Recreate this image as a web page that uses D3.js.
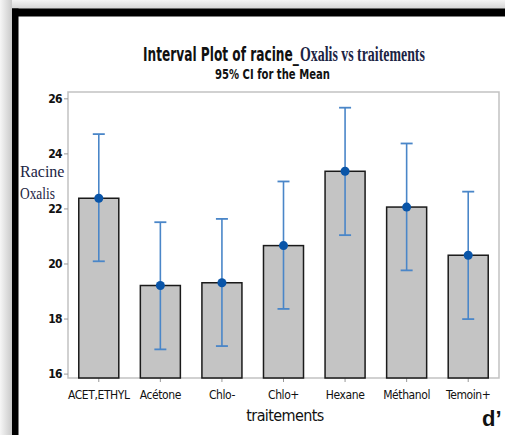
<!DOCTYPE html>
<html>
<head>
<meta charset="utf-8">
<script src="https://cdn.jsdelivr.net/npm/d3@7"></script>
<style>
  html, body { margin: 0; padding: 0; background: #fff; }
  svg { display: block; }
</style>
</head>
<body>
<svg id="chart"></svg>
<script>
// values
var categories = ["ACET,ETHYL", "Acétone", "Chlo-", "Chlo+", "Hexane", "Méthanol", "Temoin+"];
var means = [22.37, 19.2, 19.3, 20.65, 23.35, 22.05, 20.3];
var ciLow = [20.08, 16.88, 17.0, 18.35, 21.03, 19.75, 17.98];
var ciHigh = [24.7, 21.5, 21.62, 22.98, 25.66, 24.36, 22.61];
var yTicks = [16, 18, 20, 22, 24, 26];

var width = 505, height = 435;
var narrow = "'Liberation Sans Narrow', 'DejaVu Sans Condensed', 'Liberation Sans', sans-serif";
var serif = "'Liberation Serif', 'DejaVu Serif', serif";

var svg = d3.select("#chart")
    .attr("width", width)
    .attr("height", height);

// squeeze a text horizontally so it spans the given width
function fitText(sel, x0, y0, w) {
    var len = sel.node().getComputedTextLength();
    sel.attr("transform", "translate(" + x0 + "," + y0 + ") scale(" + (w / len) + ",1)");
    return sel;
}

// outer shadow + thick black frame (screenshot border)
var defs = svg.append("defs");
var gl = defs.append("linearGradient").attr("id", "shadeLeft");
gl.append("stop").attr("offset", "0%").attr("stop-color", "#f6f6f6");
gl.append("stop").attr("offset", "100%").attr("stop-color", "#c9c9c9");
var gt = defs.append("linearGradient").attr("id", "shadeTop")
    .attr("x1", 0).attr("y1", 0).attr("x2", 0).attr("y2", 1);
gt.append("stop").attr("offset", "0%").attr("stop-color", "#f4f4f4");
gt.append("stop").attr("offset", "100%").attr("stop-color", "#d4d4d4");

svg.append("rect").attr("x", 0).attr("y", 0).attr("width", width).attr("height", 9)
    .attr("fill", "url(#shadeTop)");
svg.append("rect").attr("x", 0).attr("y", 0).attr("width", 12).attr("height", height)
    .attr("fill", "url(#shadeLeft)");
svg.append("rect").attr("x", 12).attr("y", 8.5).attr("width", width - 12).attr("height", 8)
    .attr("fill", "#000");
svg.append("rect").attr("x", 12).attr("y", 8.5).attr("width", 6.5).attr("height", height)
    .attr("fill", "#000");

// plot region
var plot = { left: 68, right: 499, top: 92, bottom: 378 };

var x = d3.scaleBand()
    .domain(categories)
    .range([plot.left, plot.right])
    .paddingInner(0.35)
    .paddingOuter(0.175);

var y = d3.scaleLinear()
    .domain([15.84, 26.23])
    .range([plot.bottom, plot.top]);

var rows = categories.map(function (c, i) {
    return { cat: c, mean: means[i], lo: ciLow[i], hi: ciHigh[i] };
});

// frame
svg.append("rect")
    .attr("x", plot.left).attr("y", plot.top)
    .attr("width", plot.right - plot.left).attr("height", plot.bottom - plot.top)
    .attr("fill", "none")
    .attr("stroke", "#c2c2c2")
    .attr("stroke-width", 1.5);

// axes
var yAxis = svg.append("g")
    .attr("transform", "translate(" + plot.left + ",0)")
    .call(d3.axisLeft(y).tickValues(yTicks).tickSize(4).tickPadding(2));
yAxis.select(".domain").remove();
yAxis.selectAll("line").attr("stroke", "#999");
yAxis.selectAll("text")
    .attr("fill", "#111")
    .style("font-family", narrow)
    .style("font-size", "12px")
    .style("font-weight", "bold")
    .style("letter-spacing", "-0.6px");

var xAxis = svg.append("g")
    .attr("transform", "translate(0," + plot.bottom + ")")
    .call(d3.axisBottom(x).tickSize(4).tickPadding(8));
xAxis.select(".domain").remove();
xAxis.selectAll("line").attr("stroke", "#999");
xAxis.selectAll("text")
    .attr("fill", "#111")
    .style("font-family", narrow)
    .style("font-size", "12px")
    .style("letter-spacing", "-0.4px");

// bars of the means
svg.selectAll("rect.bar")
    .data(rows)
    .enter()
    .append("rect")
    .attr("class", "bar")
    .attr("x", function (d) { return x(d.cat); })
    .attr("y", function (d) { return y(d.mean); })
    .attr("width", x.bandwidth())
    .attr("height", function (d) { return y.range()[0] - y(d.mean); })
    .attr("fill", "#c4c4c4")
    .attr("stroke", "#1a1a1a")
    .attr("stroke-width", 1.5);

// confidence intervals
var ci = svg.selectAll("g.ci")
    .data(rows)
    .enter()
    .append("g")
    .attr("class", "ci")
    .attr("transform", function (d) { return "translate(" + (x(d.cat) + x.bandwidth() / 2) + ",0)"; });

ci.append("line")
    .attr("y1", function (d) { return y(d.lo); })
    .attr("y2", function (d) { return y(d.hi); })
    .attr("stroke", "#4a86c8")
    .attr("stroke-width", 1.6);
ci.append("line")
    .attr("x1", -6).attr("x2", 6)
    .attr("y1", function (d) { return y(d.hi); })
    .attr("y2", function (d) { return y(d.hi); })
    .attr("stroke", "#4a86c8")
    .attr("stroke-width", 1.8);
ci.append("line")
    .attr("x1", -6).attr("x2", 6)
    .attr("y1", function (d) { return y(d.lo); })
    .attr("y2", function (d) { return y(d.lo); })
    .attr("stroke", "#4a86c8")
    .attr("stroke-width", 1.8);
ci.append("circle")
    .attr("cy", function (d) { return y(d.mean); })
    .attr("r", 4.5)
    .attr("fill", "#0a55a8");

// title: condensed sans part, then serif part
var t1 = svg.append("text")
    .style("font-family", narrow).style("font-size", "20px").style("font-weight", "bold")
    .attr("fill", "#111")
    .text("Interval Plot of racine_");
fitText(t1, 143, 61, 156);
var t2 = svg.append("text")
    .style("font-family", serif).style("font-size", "20px").style("font-weight", "bold")
    .attr("fill", "#1c2444")
    .text("Oxalis vs traitements");
fitText(t2, 300, 61, 125);

var sub = svg.append("text")
    .style("font-family", narrow).style("font-size", "14px").style("font-weight", "bold")
    .attr("fill", "#111")
    .text("95% CI for the Mean");
fitText(sub, 215, 79, 115);

// axis titles
svg.append("text")
    .attr("x", 20).attr("y", 177)
    .style("font-family", serif).style("font-size", "16px")
    .attr("fill", "#1c2444")
    .text("Racine");
var ox = svg.append("text")
    .style("font-family", serif).style("font-size", "16px")
    .attr("fill", "#1c2444")
    .text("Oxalis");
fitText(ox, 20, 199, 35);

svg.append("text")
    .attr("x", 285).attr("y", 421)
    .attr("text-anchor", "middle")
    .style("font-family", narrow).style("font-size", "16px")
    .style("letter-spacing", "-0.6px")
    .attr("fill", "#111")
    .text("traitements");

// stray caption fragment at the bottom right
svg.append("text")
    .attr("x", 482).attr("y", 426)
    .style("font-family", "'Liberation Sans', Arial, sans-serif")
    .style("font-size", "22px").style("font-weight", "bold")
    .attr("fill", "#111")
    .text("d’");
</script>
</body>
</html>
